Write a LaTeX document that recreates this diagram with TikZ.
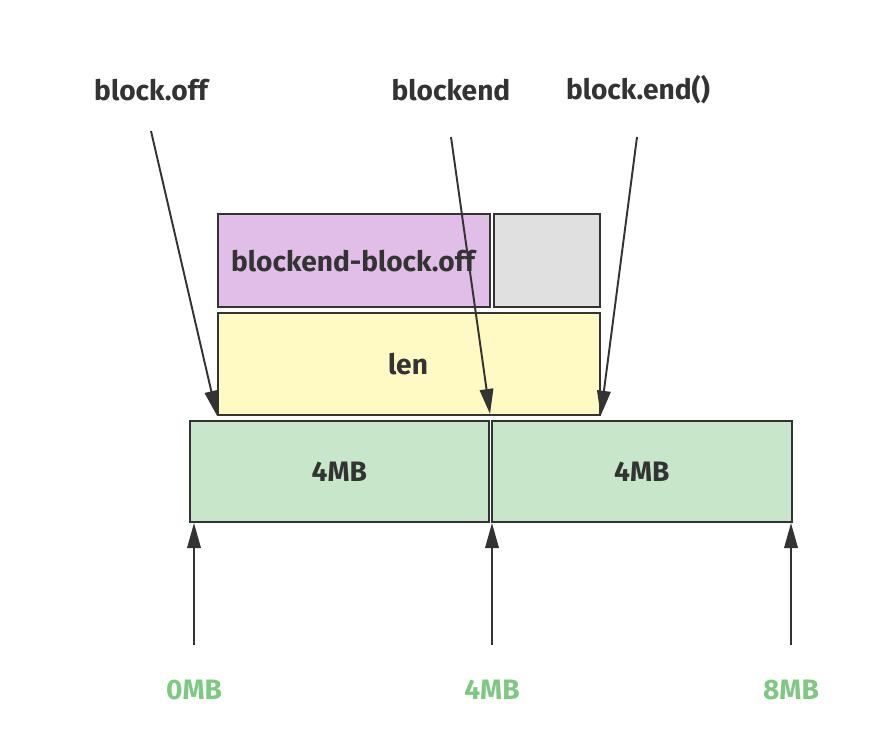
\documentclass[tikz,border=0pt]{standalone}
\usepackage{fontspec}
\setmainfont{Fira Sans}
\usetikzlibrary{arrows.meta}

\definecolor{ink}{HTML}{333333}
\definecolor{memgreen}{HTML}{C8E6C9}
\definecolor{lenyellow}{HTML}{FFF9C4}
\definecolor{offpurple}{HTML}{E1BEE7}
\definecolor{restgray}{HTML}{E0E0E0}
\definecolor{mbgreen}{HTML}{7FC882}

\tikzset{
  box/.style={draw=ink,line width=1pt,anchor=north west,inner sep=0pt,
    font=\bfseries\fontsize{16}{18}\selectfont,text=ink},
  ptr/.style={draw=ink,line width=1.1pt,-{Triangle[length=0.5cm,width=0.27cm]}},
  tag/.style={font=\bfseries\fontsize{16}{18}\selectfont,text=ink},
  mb/.style={font=\bfseries\fontsize{16}{18}\selectfont,text=mbgreen}
}

\begin{document}
\begin{tikzpicture}[x=0.02cm,y=-0.02cm]
  \useasboundingbox (0,0) rectangle (895,753);
  % blocks
  \node[box,fill=offpurple,minimum width=5.44cm,minimum height=1.86cm] (diff) at (217,213) {};
  \node[tag] at (353,261) {blockend-block.off};
  \node[box,fill=restgray,minimum width=2.12cm,minimum height=1.86cm] (rest) at (493,213) {};
  \node[box,fill=lenyellow,minimum width=7.64cm,minimum height=2.04cm] (len) at (217,312) {};
  \node[tag] at (408,364) {len};
  \node[box,fill=memgreen,minimum width=5.98cm,minimum height=2.02cm] (mem1) at (189,420) {4MB};
  \node[box,fill=memgreen,minimum width=6cm,minimum height=2.02cm] (mem2) at (491,420) {4MB};
  % pointers on top
  \node[tag] (off) at (151,90) {block.off};
  \node[tag] (bend) at (451,90) {blockend};
  \node[tag] (endf) at (638,90) {block.end()};
  \coordinate (offstart) at (151,131);
  \coordinate (bendstart) at (451,137);
  \coordinate (endstart) at (637,137);
  \draw[ptr] (offstart) -- (len.south west);
  \draw[ptr] (bendstart) -- (490,414);
  \draw[ptr] (endstart) -- (len.south east);
  % offsets below
  \node[mb] (mb0) at (194,690) {0MB};
  \node[mb] (mb4) at (492,690) {4MB};
  \node[mb] (mb8) at (791,690) {8MB};
  \foreach \p in {194,492,791}
    \draw[ptr] (\p,645) -- (\p,523);
\end{tikzpicture}
\end{document}
